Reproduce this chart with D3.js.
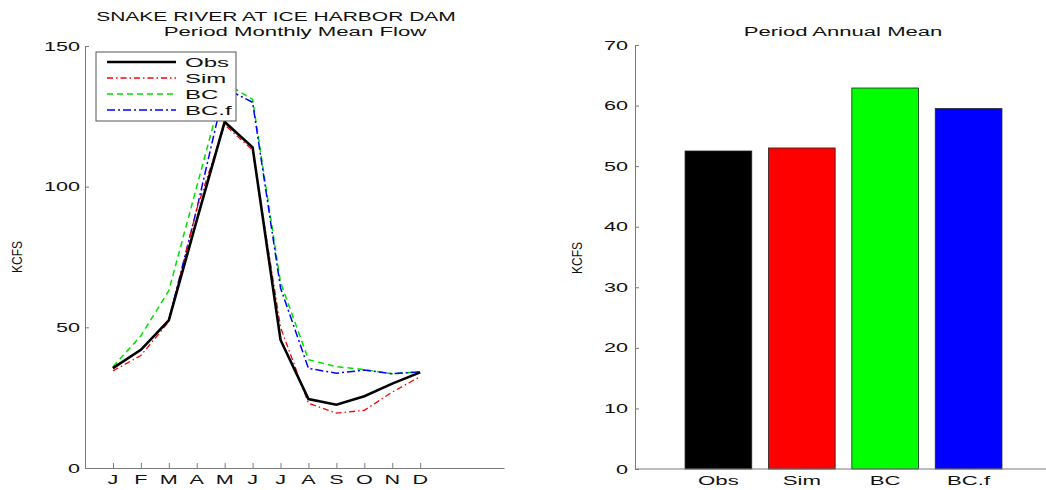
<!DOCTYPE html>
<html><head><meta charset="utf-8">
<script src="https://cdn.jsdelivr.net/npm/d3@7"></script>
<style>
html,body{margin:0;padding:0;background:#fff;}
svg{display:block;font-family:"Liberation Sans",Arial,sans-serif;}
</style></head>
<body><svg id="c" width="1046" height="490"></svg>
<script>
// ---- data ----
const months = ["J","F","M","A","M","J","J","A","S","O","N","D"];
const obs  = [35.5, 42, 52.5, 88, 123, 114, 45.5, 24.5, 22.5, 25.5, 30, 34];
const sim  = [34.5, 40, 52, 92, 122, 113, 50, 23, 19.5, 20.5, 27, 32.5];
const bc   = [36, 47, 63, 100, 137, 131, 66, 38.5, 36, 35, 33.5, 34.2];
const bcf  = [35.5, 42, 52.5, 92, 135, 130, 64, 35.4, 33.7, 34.8, 33.5, 34.2];
const seriesNames = ["Obs","Sim","BC","BC.f"];
const annualMean = [52.5, 53, 62.9, 59.5];
const leftYTicks = [0, 50, 100, 150];
const rightYTicks = [0, 10, 20, 30, 40, 50, 60, 70];

const svg = d3.select("#c");
const AX = "#7a7a7a";
const SX = 1.8;

function label(g, x, y, str, anchor, size, sx, extra) {
  return g.append("text")
    .attr("transform", `translate(${x},${y}) scale(${sx},1)` + (extra || ""))
    .attr("text-anchor", anchor)
    .style("font-size", size + "px")
    .attr("fill", "#111")
    .text(str);
}

// ---------- Left panel ----------
const xL = d3.scaleLinear().domain([0, 15]).range([85, 504]);
const yL = d3.scaleLinear().domain([0, 150]).range([468, 46]);
const gL = svg.append("g");

// axes
const axL = d3.axisLeft(yL).tickValues(leftYTicks).tickSizeInner(-4).tickSizeOuter(0).tickFormat("");
gL.append("g").attr("transform", `translate(${xL(0)},0)`).call(axL)
  .call(g => g.selectAll("path,line").attr("stroke", AX));
const axB = d3.axisBottom(xL).tickValues(d3.range(1, 13)).tickSizeInner(-5).tickSizeOuter(0).tickFormat("");
gL.append("g").attr("transform", `translate(0,${yL(0)})`).call(axB)
  .call(g => g.selectAll("path,line").attr("stroke", AX));

leftYTicks.forEach(v => label(gL, 80, yL(v) + 4.5, String(v), "end", 12, SX));
months.forEach((m, i) => label(gL, xL(i + 1), 484, m, "middle", 12, SX));

label(gL, 276, 21, "SNAKE RIVER AT ICE HARBOR DAM", "middle", 12, 1.75);
label(gL, 295, 36, "Period Monthly Mean Flow", "middle", 12, 1.85);
label(gL, 22, 257, "KCFS", "middle", 12, 1.2, " rotate(-90)");

const line = d3.line().x((d, i) => xL(i + 1)).y(d => yL(d));
const styles = [
  {data: obs, color: "#000", w: 2.6, dash: null},
  {data: sim, color: "#ff0000", w: 1.3, dash: "6,3,1.5,3"},
  {data: bc,  color: "#00e000", w: 1.5, dash: "6,4"},
  {data: bcf, color: "#0000ff", w: 1.5, dash: "8,3,2,3"}
];
// draw colored first, then obs on top
[styles[2], styles[3], styles[1], styles[0]].forEach(s => {
  gL.append("path").datum(s.data).attr("d", line)
    .attr("fill", "none").attr("stroke", s.color).attr("stroke-width", s.w)
    .attr("stroke-dasharray", s.dash).attr("stroke-linejoin", "miter");
});

// legend
const lg = gL.append("g");
lg.append("rect").attr("x", 96).attr("y", 52).attr("width", 140).attr("height", 69)
  .attr("fill", "#fff").attr("stroke", "#555").attr("stroke-width", 1);
styles.forEach((s, i) => {
  const yy = 62 + i * 16;
  lg.append("line").attr("x1", 107).attr("x2", 176).attr("y1", yy).attr("y2", yy)
    .attr("stroke", s.color).attr("stroke-width", s.w).attr("stroke-dasharray", s.dash);
  label(lg, 185, yy + 4.5, seriesNames[i], "start", 12, 2.0);
});

// ---------- Right panel ----------
const xR = d3.scaleLinear().domain([0, 5]).range([635, 1052]);
const yR = d3.scaleLinear().domain([0, 70]).range([469, 45]);
const gR = svg.append("g");
const barColors = ["#000000", "#ff0000", "#00ff00", "#0000ff"];
const bw = xR(0.8) - xR(0);

gR.selectAll("rect.bar").data(annualMean).enter().append("rect")
  .attr("class", "bar")
  .attr("x", (d, i) => xR(i + 1) - bw / 2)
  .attr("width", bw)
  .attr("y", d => yR(d))
  .attr("height", d => yR(0) - yR(d))
  .attr("fill", (d, i) => barColors[i])
  .attr("stroke", "#222").attr("stroke-width", 0.8);

const axR = d3.axisLeft(yR).tickValues(rightYTicks).tickSizeInner(-4).tickSizeOuter(0).tickFormat("");
gR.append("g").attr("transform", `translate(${xR(0)},0)`).call(axR)
  .call(g => g.selectAll("path,line").attr("stroke", AX));
gR.append("line").attr("x1", xR(0)).attr("x2", 1046).attr("y1", yR(0)).attr("y2", yR(0))
  .attr("stroke", AX);

rightYTicks.forEach(v => label(gR, 628, yR(v) + 4.5, String(v), "end", 12, SX));
seriesNames.forEach((n, i) => label(gR, xR(i + 1), 485, n, "middle", 12, 1.85));
label(gR, 843, 36, "Period Annual Mean", "middle", 12, 1.84);
label(gR, 582, 258, "KCFS", "middle", 12, 1.2, " rotate(-90)");
</script></body></html>
